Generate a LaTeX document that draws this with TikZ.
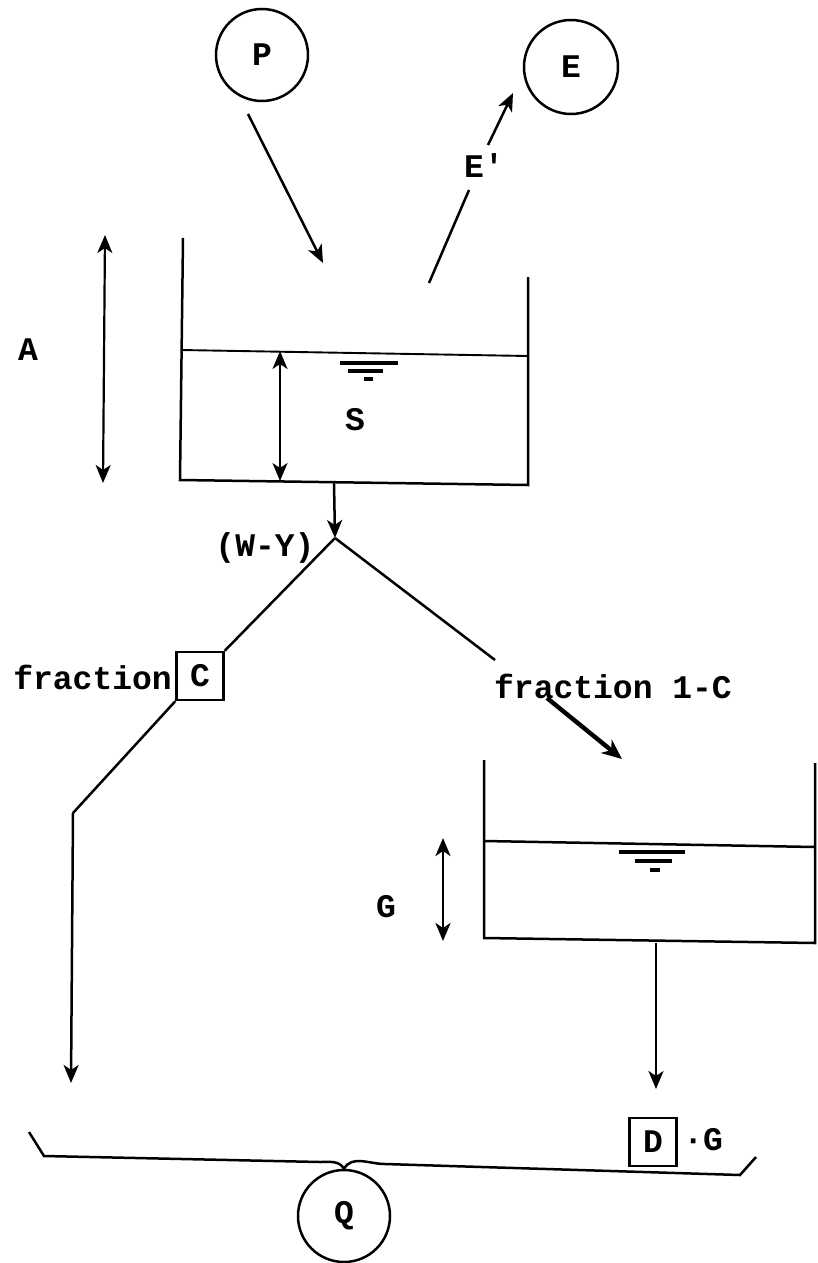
\documentclass[tikz,border=0pt]{standalone}
\usepackage{fontspec}
\setmainfont{Liberation Mono}[Ligatures=TeXOff]
\usetikzlibrary{arrows.meta}
\begin{document}
\begin{tikzpicture}[x=1pt,y=-1pt,
  line width=2.5pt,
  every node/.style={font=\fontsize{33}{38}\selectfont\bfseries},
  tip/.style={-{Stealth[length=18pt,width=15pt,inset=5pt]}},
  dtip/.style={{Stealth[length=18pt,width=15pt,inset=5pt]}-{Stealth[length=18pt,width=15pt,inset=5pt]}},
  bubble/.style={draw,circle,inner sep=0pt},
  valbox/.style={draw,rectangle,inner sep=0pt,minimum width=47pt,minimum height=48pt},
  lbl/.style={inner sep=1pt}]
\useasboundingbox (0,0) rectangle (817,1263);
% circles
\node[bubble,minimum size=92pt] (P) at (262,55) {P};
\node[bubble,minimum size=94pt] (E) at (571,67) {E};
\node[bubble,minimum size=92pt] (Q) at (344,1216) {Q};
% labels
\node[lbl] (A) at (28,350) {A};
\node[lbl] (S) at (355,420) {S};
\node[lbl] (Ep) at (484,166) {E'};
\node[lbl] (WY) at (265,548) {(W-Y)};
\node[lbl,anchor=east] (frac) at (174,677) {fraction};
\node[valbox] (C) at (200,676) {C};
\node[lbl] (frac2) at (613,686) {fraction 1-C};
\node[lbl] (G) at (386,907) {G};
\node[valbox] (D) at (653,1142) {D};
\node[lbl,anchor=west] (DG) at (681,1140) {·G};
% coordinates
\coordinate (p1) at (248,114); \coordinate (p2) at (323,263);
\coordinate (e1) at (429,283); \coordinate (e2) at (469,190);
\coordinate (e3) at (488,145); \coordinate (e4) at (513,93);
\coordinate (t1a) at (183,238); \coordinate (t1b) at (180,480);
\coordinate (t1c) at (528,485); \coordinate (t1d) at (528,277);
\coordinate (w1l) at (181,350); \coordinate (w1r) at (528,356);
\coordinate (s1) at (280,351); \coordinate (s2) at (280,481);
\coordinate (a1) at (105,235); \coordinate (a2) at (103,483);
\coordinate (o1) at (334,483); \coordinate (apex) at (335,538);
\coordinate (rb) at (495,660);
\coordinate (lb1) at (73,813); \coordinate (lb2) at (71,1083);
\coordinate (th1) at (547,698); \coordinate (th2) at (622,759);
\coordinate (t2a) at (484,760); \coordinate (t2b) at (484,938);
\coordinate (t2c) at (815,943); \coordinate (t2d) at (815,763);
\coordinate (w2l) at (484,841); \coordinate (w2r) at (815,847);
\coordinate (g1) at (443,838); \coordinate (g2) at (443,941);
\coordinate (o2a) at (656,943); \coordinate (o2b) at (656,1089);
\coordinate (c1) at (29,1132); \coordinate (c2) at (44,1156);
\coordinate (c3) at (320,1162); \coordinate (c4) at (385,1164);
\coordinate (c5) at (740,1175); \coordinate (c6) at (756,1157);
% inflow / evaporation
\draw[tip] (p1) -- (p2);
\draw (e1) -- (e2);
\draw[tip] (e3) -- (e4);
% upper tank
\draw (t1a) -- (t1b) -- (t1c) -- (t1d);
\draw[line width=1.9pt] (w1l) -- (w1r);
\draw[line width=3.4pt] (340,363) -- (398,363);
\draw[line width=3.4pt] (348,371) -- (383,371);
\draw[line width=3.4pt] (364,379) -- (373,379);
\draw[dtip,line width=2.2pt] (s1) -- (s2);
\draw[dtip,line width=2.2pt] (a1) -- (a2);
% split
\draw[tip] (o1) -- (apex);
\draw (apex) -- (C.north east);
\draw (apex) -- (rb);
\draw (C.south west) -- (lb1);
\draw[tip] (lb1) -- (lb2);
\draw[-{Stealth[length=20pt,width=17pt,inset=6pt]},line width=4.4pt] (th1) -- (th2);
% lower tank
\draw (t2a) -- (t2b) -- (t2c) -- (t2d);
\draw (w2l) -- (w2r);
\draw[line width=3.4pt] (619,852) -- (685,852);
\draw[line width=3.4pt] (635,861) -- (672,861);
\draw[line width=3.4pt] (650,870) -- (660,870);
\draw[dtip,line width=2.8pt] (g1) -- (g2);
\draw[tip] (o2a) -- (o2b);
% channel
\draw (c1) -- (c2) -- (c3) to[out=0,in=120] (Q.north) ;
\draw (Q.north) to[out=60,in=180] (c4) -- (c5) -- (c6);
\end{tikzpicture}
\end{document}
